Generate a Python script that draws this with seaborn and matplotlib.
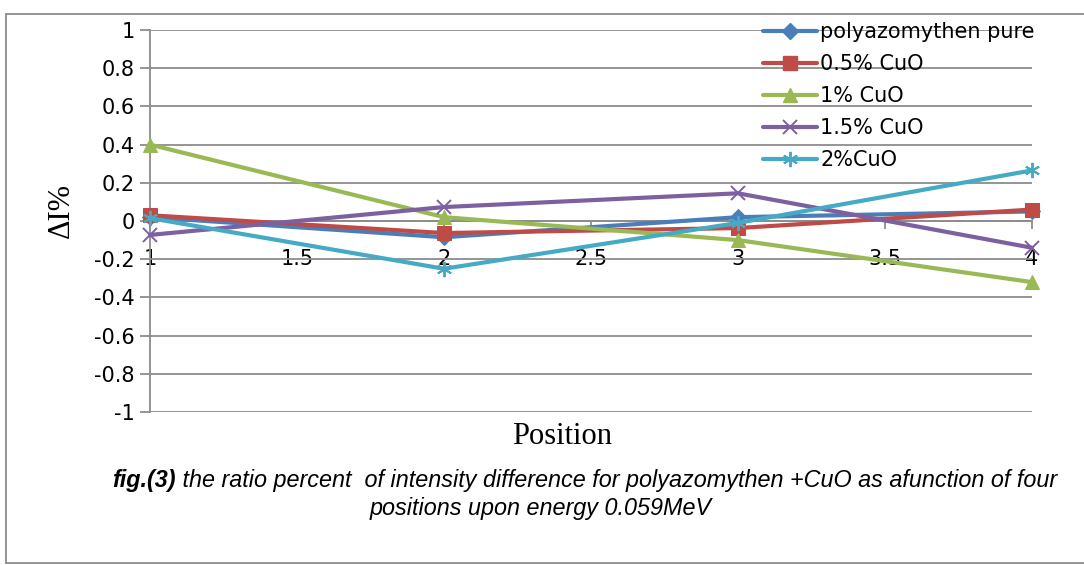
import matplotlib
matplotlib.use("Agg")
import matplotlib.pyplot as plt
from matplotlib.lines import Line2D
import seaborn as sns
import pandas as pd

# Measured intensity-difference ratios at the four positions
positions = [1, 2, 3, 4]
pure = [0.02, -0.085, 0.02, 0.05]
cuo_05 = [0.03, -0.063, -0.037, 0.06]
cuo_1 = [0.40, 0.02, -0.10, -0.32]
cuo_15 = [-0.073, 0.073, 0.145, -0.14]
cuo_2 = [0.015, -0.25, -0.01, 0.265]

series_names = ["polyazomythen pure", "0.5% CuO", "1% CuO", "1.5% CuO", "2%CuO"]
series_values = [pure, cuo_05, cuo_1, cuo_15, cuo_2]
series_colors = ["#4A7EBB", "#BE4B48", "#98B954", "#7D60A0", "#46AAC5"]
series_markers = ["D", "s", "^", "x", (6, 2, 0)]
marker_sizes = [8, 10, 10, 10, 11]

y_ticks = [1, 0.8, 0.6, 0.4, 0.2, 0, -0.2, -0.4, -0.6, -0.8, -1]
x_ticks = [1, 1.5, 2, 2.5, 3, 3.5, 4]

sns.set_style("white")
plt.rcParams["font.family"] = ["DejaVu Sans"]
plt.rcParams["text.color"] = "black"

W, H = 1084, 565
fig = plt.figure(figsize=(W / 100, H / 100), dpi=100)
ax = fig.add_axes([150 / W, 1 - 412 / H, (1032 - 150) / W, (412 - 30) / H])

grid_c = "#8C8C8C"

frames = []
for name, vals in zip(series_names, series_values):
    frames.append(pd.DataFrame({"Position": positions, "value": vals, "series": name}))
df = pd.concat(frames, ignore_index=True)

for name, color, mk, ms in zip(series_names, series_colors, series_markers, marker_sizes):
    sub = df[df["series"] == name]
    filled = mk not in ("x", (6, 2, 0))
    kw = dict(markerfacecolor=color, markeredgecolor=color)
    if not filled:
        kw["markeredgewidth"] = 1.4
    sns.lineplot(data=sub, x="Position", y="value", ax=ax, color=color,
                 linewidth=3.0, marker=mk, markersize=ms, legend=False,
                 clip_on=False, zorder=3, **kw)

ax.set_xlim(1, 4)
ax.set_ylim(-1, 1)
ax.set_yticks(y_ticks)
ax.set_yticklabels([f"{v:g}" for v in y_ticks])
ax.set_xticks(x_ticks)
ax.set_xticklabels([f"{v:g}" for v in x_ticks])

# horizontal gridlines
ax.grid(axis="y", color=grid_c, linewidth=1.3)
ax.grid(axis="x", visible=False)
ax.set_axisbelow(True)

for s in ["top", "right"]:
    ax.spines[s].set_visible(False)
ax.spines["left"].set_color(grid_c)
ax.spines["left"].set_linewidth(1.3)
ax.spines["bottom"].set_position(("data", 0))
ax.spines["bottom"].set_color(grid_c)
ax.spines["bottom"].set_linewidth(1.3)

ax.tick_params(axis="y", left=True, length=7, width=1.3, color=grid_c,
               labelsize=15, pad=4, labelcolor="black")
ax.tick_params(axis="x", bottom=True, direction="out", length=6, width=1.3,
               color=grid_c, labelsize=15, pad=14, labelcolor="black")

ax.set_xlabel("")
ax.set_ylabel("")

# axis titles
fig.text(61 / W, 1 - 211 / H, "ΔI%", rotation=90, ha="center", va="center",
         fontsize=22, family=["Liberation Serif", "DejaVu Serif"])
fig.text(562 / W, 1 - 437 / H, "Position", ha="center", va="center",
         fontsize=22, family="Liberation Serif")

# legend
handles = [Line2D([0], [0], color=c, linewidth=3.0, marker=m, markersize=ms,
                  markerfacecolor=c, markeredgecolor=c,
                  markeredgewidth=1.4 if m in ("x", (6, 2, 0)) else 1.0)
           for c, m, ms in zip(series_colors, series_markers, marker_sizes)]
fig.legend(handles, series_names, loc="upper left",
           bbox_to_anchor=(763 / W, 1 - 22 / H), frameon=False,
           fontsize=15, handlelength=2.6, handletextpad=0.15,
           labelspacing=0.58, borderaxespad=0, borderpad=0, labelcolor="black")

# caption
cap_y1 = 1 - 480 / H
cap_y2 = 1 - 508 / H
cap_font = "Liberation Sans"
cap_size = 16.8
fig.canvas.draw()
renderer = fig.canvas.get_renderer()
t_bold = fig.text(0, cap_y1, "fig.(3)", fontsize=cap_size, family=cap_font,
                  style="italic", weight="bold", ha="left", va="center")
t_rest = fig.text(0, cap_y1,
                  " the ratio percent  of intensity difference for polyazomythen +CuO as afunction of four",
                  fontsize=cap_size, family=cap_font, style="italic", ha="left", va="center")
wb = t_bold.get_window_extent(renderer).width
wr = t_rest.get_window_extent(renderer).width
x0 = 584.5 - (wb + wr) / 2
t_bold.set_x(x0 / W)
t_rest.set_x((x0 + wb) / W)
fig.text(541 / W, cap_y2, "positions upon energy 0.059MeV", fontsize=cap_size,
         family=cap_font, style="italic", ha="center", va="center")

# outer frame
frame_c = "#8C8C8C"
fig.add_artist(Line2D([6 / W, 1], [1 - 13.5 / H, 1 - 13.5 / H], transform=fig.transFigure,
                      color=frame_c, linewidth=1.3))
fig.add_artist(Line2D([6 / W, 6 / W], [1 - 13.5 / H, 1 - 563 / H], transform=fig.transFigure,
                      color=frame_c, linewidth=1.3))
fig.add_artist(Line2D([6 / W, 1], [1 - 563 / H, 1 - 563 / H], transform=fig.transFigure,
                      color=frame_c, linewidth=1.3))

fig.savefig("out.png", dpi=100)
